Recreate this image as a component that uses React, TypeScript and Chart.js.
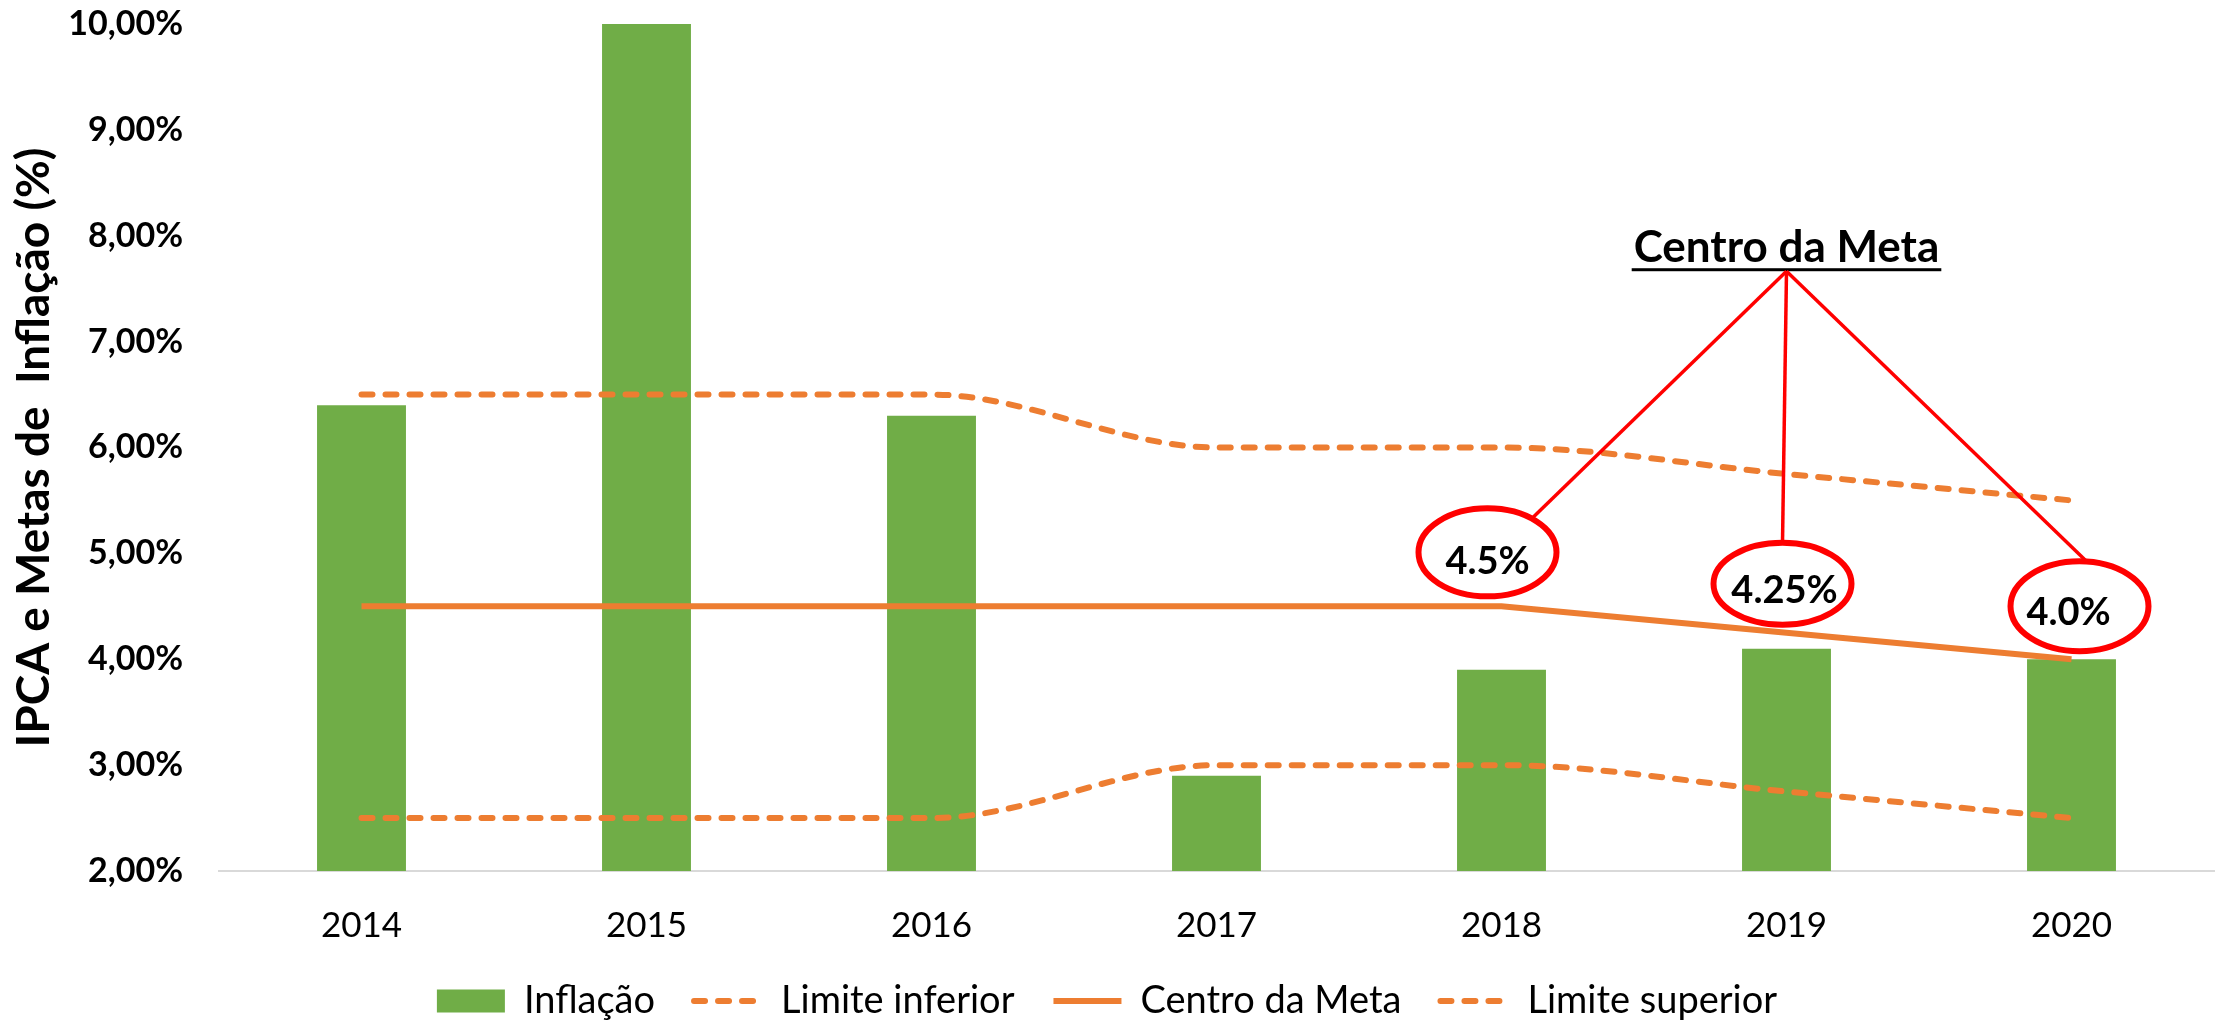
import React, { useEffect, useRef } from 'react';
import { Chart, registerables } from 'chart.js';

Chart.register(...registerables);

// ---- Data ----
const years = ['2014', '2015', '2016', '2017', '2018', '2019', '2020'];
const inflacao = [6.4, 10.67, 6.3, 2.9, 3.9, 4.1, 4.0];
const limiteInferior = [2.5, 2.5, 2.5, 3.0, 3.0, 2.75, 2.5];
const centroMeta = [4.5, 4.5, 4.5, 4.5, 4.5, 4.25, 4.0];
const limiteSuperior = [6.5, 6.5, 6.5, 6.0, 6.0, 5.75, 5.5];
const yTicks = [2, 3, 4, 5, 6, 7, 8, 9, 10];
const yTitle = 'IPCA e Metas de  Inflação (%)';
const calloutTitle = 'Centro da Meta';
const calloutLabels = ['4.5%', '4.25%', '4.0%'];
const calloutYears = ['2018', '2019', '2020'];

const GREEN = '#70AD47';
const ORANGE = '#ED7D31';
const RED = '#FF0000';
const FONT = 'Lato, "Open Sans", sans-serif';

const calloutPlugin = {
  id: 'callout',
  afterDatasetsDraw(chart: any) {
    const { ctx } = chart;
    const x = chart.scales.x;
    const y = chart.scales.y;
    ctx.save();
    // title
    const titleX = x.getPixelForValue(years.indexOf('2019'));
    const titleBase = y.getPixelForValue(7.75);
    ctx.font = `bold 44px ${FONT}`;
    ctx.fillStyle = '#000';
    ctx.textAlign = 'center';
    ctx.textBaseline = 'alphabetic';
    ctx.fillText(calloutTitle, titleX, titleBase);
    const tw = ctx.measureText(calloutTitle).width;
    ctx.fillRect(titleX - tw / 2 - 2, titleBase + 6, tw + 4, 3);
    const apexY = titleBase + 9;

    const dxs = [-14, -4, 8];
    const dys = [-54, -49, -53];
    const rys = [44, 41, 45];
    const rx = 69;
    const angles = [50, 90, 84];
    const textOff = [[0, 9], [2, 7], [-11, 6]];

    calloutYears.forEach((yr, i) => {
      const idx = years.indexOf(yr);
      const cx = x.getPixelForValue(idx) + dxs[i];
      const cy = y.getPixelForValue(centroMeta[idx]) + dys[i];
      const ry = rys[i];
      // connector
      const a = (angles[i] * Math.PI) / 180;
      const ex = cx + rx * Math.cos(a);
      const ey = cy - ry * Math.sin(a);
      ctx.beginPath();
      ctx.strokeStyle = RED;
      ctx.lineWidth = 3.5;
      ctx.moveTo(titleX, apexY);
      ctx.lineTo(ex, ey);
      ctx.stroke();
      // ellipse
      ctx.beginPath();
      ctx.lineWidth = 6;
      ctx.ellipse(cx, cy, rx, ry, 0, 0, Math.PI * 2);
      ctx.stroke();
      // label
      ctx.font = `bold 38px ${FONT}`;
      ctx.fillStyle = '#000';
      ctx.textAlign = 'center';
      ctx.textBaseline = 'middle';
      ctx.fillText(calloutLabels[i], cx + textOff[i][0], cy + textOff[i][1]);
    });
    ctx.restore();
  },
};

export default function App() {
  const canvasRef = useRef<HTMLCanvasElement | null>(null);

  useEffect(() => {
    document.body.style.margin = '0';
    const canvas = canvasRef.current;
    if (!canvas) return;

    const dashed = {
      type: 'line' as const,
      borderColor: ORANGE,
      backgroundColor: ORANGE,
      borderWidth: 6,
      borderDash: [11, 13],
      borderCapStyle: 'round' as const,
      pointRadius: 0,
      cubicInterpolationMode: 'monotone' as const,
      fill: false,
      order: 1,
    };

    const chart = new Chart(canvas, {
      type: 'bar',
      data: {
        labels: years,
        datasets: [
          {
            type: 'bar',
            label: 'Inflação',
            data: inflacao,
            backgroundColor: GREEN,
            borderWidth: 0,
            barPercentage: 0.312,
            categoryPercentage: 1,
            order: 2,
          },
          { ...dashed, label: 'Limite inferior', data: limiteInferior },
          {
            type: 'line',
            label: 'Centro da Meta',
            data: centroMeta,
            borderColor: ORANGE,
            backgroundColor: ORANGE,
            borderWidth: 6,
            borderCapStyle: 'butt',
            tension: 0,
            pointRadius: 0,
            fill: false,
            order: 1,
          },
          { ...dashed, label: 'Limite superior', data: limiteSuperior },
        ] as any,
      },
      options: {
        animation: false,
        responsive: false,
        devicePixelRatio: 1,
        layout: { autoPadding: false, padding: { top: 24, left: 0, right: 7, bottom: -8 } },
        scales: {
          x: {
            grid: { display: false, drawTicks: false },
            border: { display: true, color: '#d9d9d9', width: 2 },
            ticks: { font: { family: FONT, size: 35 }, color: '#000', padding: 34 },
            afterFit: (s: any) => {
              s.height = 72;
            },
          },
          y: {
            min: 2,
            max: 10,
            afterBuildTicks: (s: any) => {
              s.ticks = yTicks.map((v) => ({ value: v }));
            },
            grid: { display: false, drawTicks: false },
            border: { display: false },
            ticks: {
              font: { family: FONT, size: 34, weight: 'bold' },
              color: '#000',
              padding: 36,
              callback: (v: any) => Number(v).toFixed(2).replace('.', ',') + '%',
            },
            title: {
              display: true,
              text: yTitle,
              color: '#000',
              font: { family: FONT, size: 46, weight: 'bold' },
              padding: { top: 7, bottom: 0 },
            },
            afterFit: (s: any) => {
              s.width = 219;
              s.paddingTop = 0;
              s.paddingBottom = 0;
            },
          },
        },
        plugins: {
          tooltip: { enabled: false },
          legend: {
            position: 'bottom',
            labels: {
              usePointStyle: true,
              pointStyleWidth: 68,
              boxHeight: 23,
              padding: 39,
              color: '#000',
              font: { family: FONT, size: 38 },
              generateLabels: (c: any) => {
                const items = Chart.defaults.plugins.legend.labels.generateLabels(c);
                items.forEach((it: any) => {
                  const ds: any = c.data.datasets[it.datasetIndex];
                  if (ds.type === 'bar') {
                    it.pointStyle = 'rect';
                    it.fillStyle = ds.backgroundColor;
                    it.lineWidth = 0;
                  } else {
                    it.pointStyle = 'line';
                    it.strokeStyle = ds.borderColor;
                    it.lineWidth = ds.borderWidth;
                    it.lineDash = ds.borderDash || [];
                    it.lineCap = ds.borderCapStyle || 'butt';
                  }
                });
                return items.sort((a: any, b: any) => a.datasetIndex - b.datasetIndex);
              },
            },
          },
        },
      } as any,
      plugins: [calloutPlugin],
    });

    return () => {
      chart.destroy();
    };
  }, []);

  return (
    <div style={{ width: 2221, height: 1022, background: '#fff' }}>
      <canvas ref={canvasRef} width={2221} height={1022} style={{ display: 'block' }} />
    </div>
  );
}
